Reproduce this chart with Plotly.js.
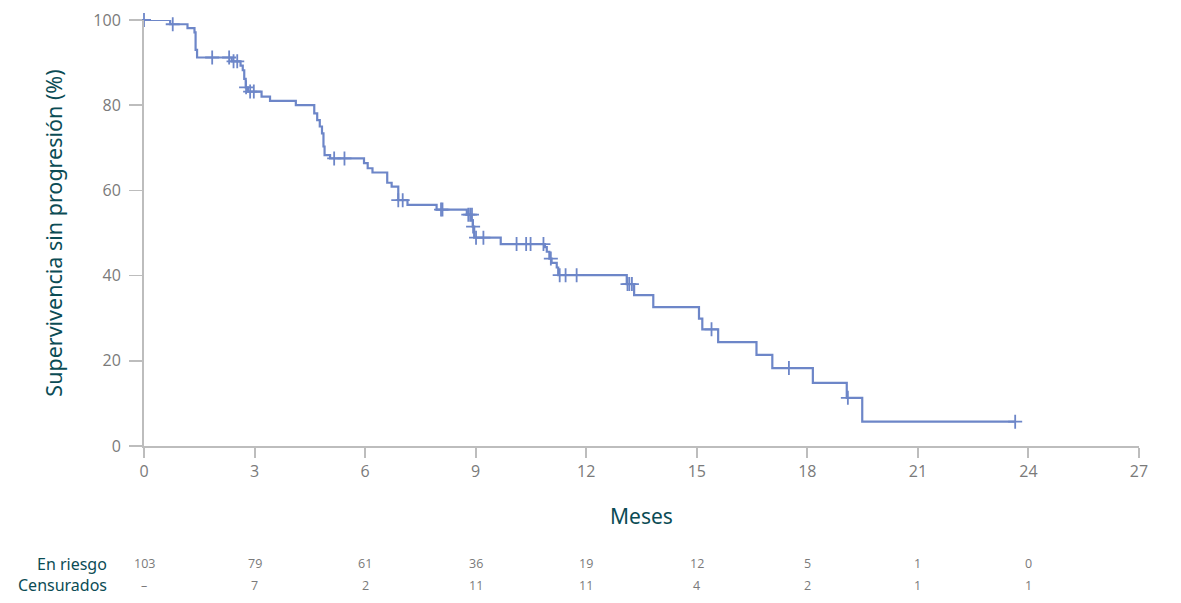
<!DOCTYPE html>
<html>
<head>
<meta charset="utf-8">
<script src="https://cdn.plot.ly/plotly-3.0.1.min.js"></script>
<style>
  html, body { margin: 0; padding: 0; background: #fff; }
  #plot { width: 1181px; height: 603px; }
</style>
</head>
<body>
<div id="plot"></div>
<script>
// Kaplan-Meier steps (months, % progression-free)
const stepMonths = [0, 0.71, 1.18, 1.37, 1.40, 1.44, 2.38, 2.62, 2.68, 2.72, 2.76, 2.82,
  3.19, 3.42, 4.12, 4.62, 4.70, 4.77, 4.83, 4.87, 4.90, 5.05, 5.97, 6.07, 6.20,
  6.60, 6.72, 6.90, 7.15, 7.94, 8.76, 8.88, 8.92, 8.96, 9.68, 10.88, 10.93, 11.00,
  11.06, 11.20, 11.24, 13.10, 13.30, 13.82, 15.06, 15.15, 15.58, 16.62, 17.05,
  18.15, 19.07, 19.49, 23.64];
const stepSurv = [100, 99.0, 98.1, 97.1, 93.0, 91.2, 90.3, 89.3, 88.2, 86.2, 84.2, 83.2,
  82.0, 81.0, 80.0, 78.1, 76.5, 75.0, 73.4, 70.3, 68.3, 67.5, 66.4, 65.2, 64.2,
  61.8, 60.9, 57.7, 56.6, 55.5, 54.3, 53.0, 51.5, 48.9, 47.4, 46.7, 45.6, 44.0,
  43.0, 41.9, 40.1, 38.0, 35.4, 32.6, 29.9, 27.4, 24.4, 21.4, 18.3,
  14.8, 11.3, 5.7, 5.7];

// censored patients
const censorMonths = [0, 0.78, 1.85, 2.31, 2.43, 2.53, 2.77, 2.88, 2.98, 5.16, 5.44,
  6.90, 7.02, 8.06, 8.10, 8.80, 8.85, 8.90, 8.93, 9.01, 9.21, 10.11, 10.37, 10.49,
  10.84, 11.04, 11.28, 11.44, 11.74, 13.12, 13.17, 13.24, 15.40, 17.50, 19.10, 23.64];
const censorSurv = [100, 99.0, 91.2, 91.2, 90.3, 90.3, 84.2, 83.2, 83.2, 67.5, 67.5,
  57.7, 57.7, 55.5, 55.5, 54.3, 54.3, 54.3, 51.5, 48.9, 48.9, 47.4, 47.4, 47.4,
  47.4, 44.0, 40.1, 40.1, 40.1, 38.0, 38.0, 38.0, 27.4, 18.3, 11.3, 5.7];

// number-at-risk table
const tickMonths = [0, 3, 6, 9, 12, 15, 18, 21, 24];
const atRisk = ["103", "79", "61", "36", "19", "12", "5", "1", "0"];
const censored = ["–", "7", "2", "11", "11", "4", "2", "1", "1"];

const blue = "#6d86c8";
const teal = "#0b4c55";
const grey = "#7a7a7a";

const curve = {
  x: stepMonths,
  y: stepSurv,
  type: "scatter",
  mode: "lines",
  line: { shape: "hv", color: blue, width: 2.2 },
  cliponaxis: false,
  hoverinfo: "skip",
};

const marks = {
  x: censorMonths,
  y: censorSurv,
  type: "scatter",
  mode: "markers",
  marker: { symbol: "cross-thin", size: 10, line: { color: blue, width: 1.8 } },
  cliponaxis: false,
  hoverinfo: "skip",
};

const annotations = [];
const rowY = [-0.276, -0.327];
[["En riesgo", atRisk], ["Censurados", censored]].forEach(([label, vals], r) => {
  annotations.push({
    text: label, xref: "paper", yref: "paper", x: -0.035, y: rowY[r],
    xanchor: "right", yanchor: "middle", showarrow: false,
    font: { family: "Noto Sans", size: 16, color: teal },
  });
  vals.forEach((v, i) => {
    annotations.push({
      text: v, xref: "x", yref: "paper", x: tickMonths[i], y: rowY[r],
      xanchor: "center", yanchor: "middle", showarrow: false,
      font: { family: "Open Sans", size: 12.5, color: grey },
    });
  });
});

const layout = {
  width: 1181,
  height: 603,
  margin: { l: 144, r: 42, t: 20, b: 157 },
  paper_bgcolor: "#fff",
  plot_bgcolor: "#fff",
  showlegend: false,
  xaxis: {
    range: [0, 27],
    tickvals: [0, 3, 6, 9, 12, 15, 18, 21, 24, 27],
    showgrid: false,
    zeroline: false,
    showline: true,
    linecolor: "#bdbdbd",
    linewidth: 2,
    ticks: "outside",
    ticklen: 10,
    tickwidth: 2,
    tickcolor: "#bdbdbd",
    tickfont: { family: "Open Sans", size: 16, color: grey },
    title: { text: "Meses", standoff: 28, font: { family: "Noto Sans", size: 21, color: teal } },
  },
  yaxis: {
    range: [0, 100],
    tickvals: [0, 20, 40, 60, 80, 100],
    showgrid: false,
    zeroline: false,
    showline: true,
    linecolor: "#bdbdbd",
    linewidth: 2,
    ticks: "outside",
    ticklen: 13,
    tickwidth: 1.5,
    tickcolor: "#bdbdbd",
    ticklabelstandoff: 5,
    tickfont: { family: "Open Sans", size: 16, color: grey },
    title: { text: "Supervivencia sin progresión (%)", standoff: 25, font: { family: "Noto Sans", size: 21.5, color: teal } },
  },
  annotations,
};

Plotly.newPlot(document.querySelector("#plot"), [curve, marks], layout, { displayModeBar: false, staticPlot: true });
</script>
</body>
</html>
